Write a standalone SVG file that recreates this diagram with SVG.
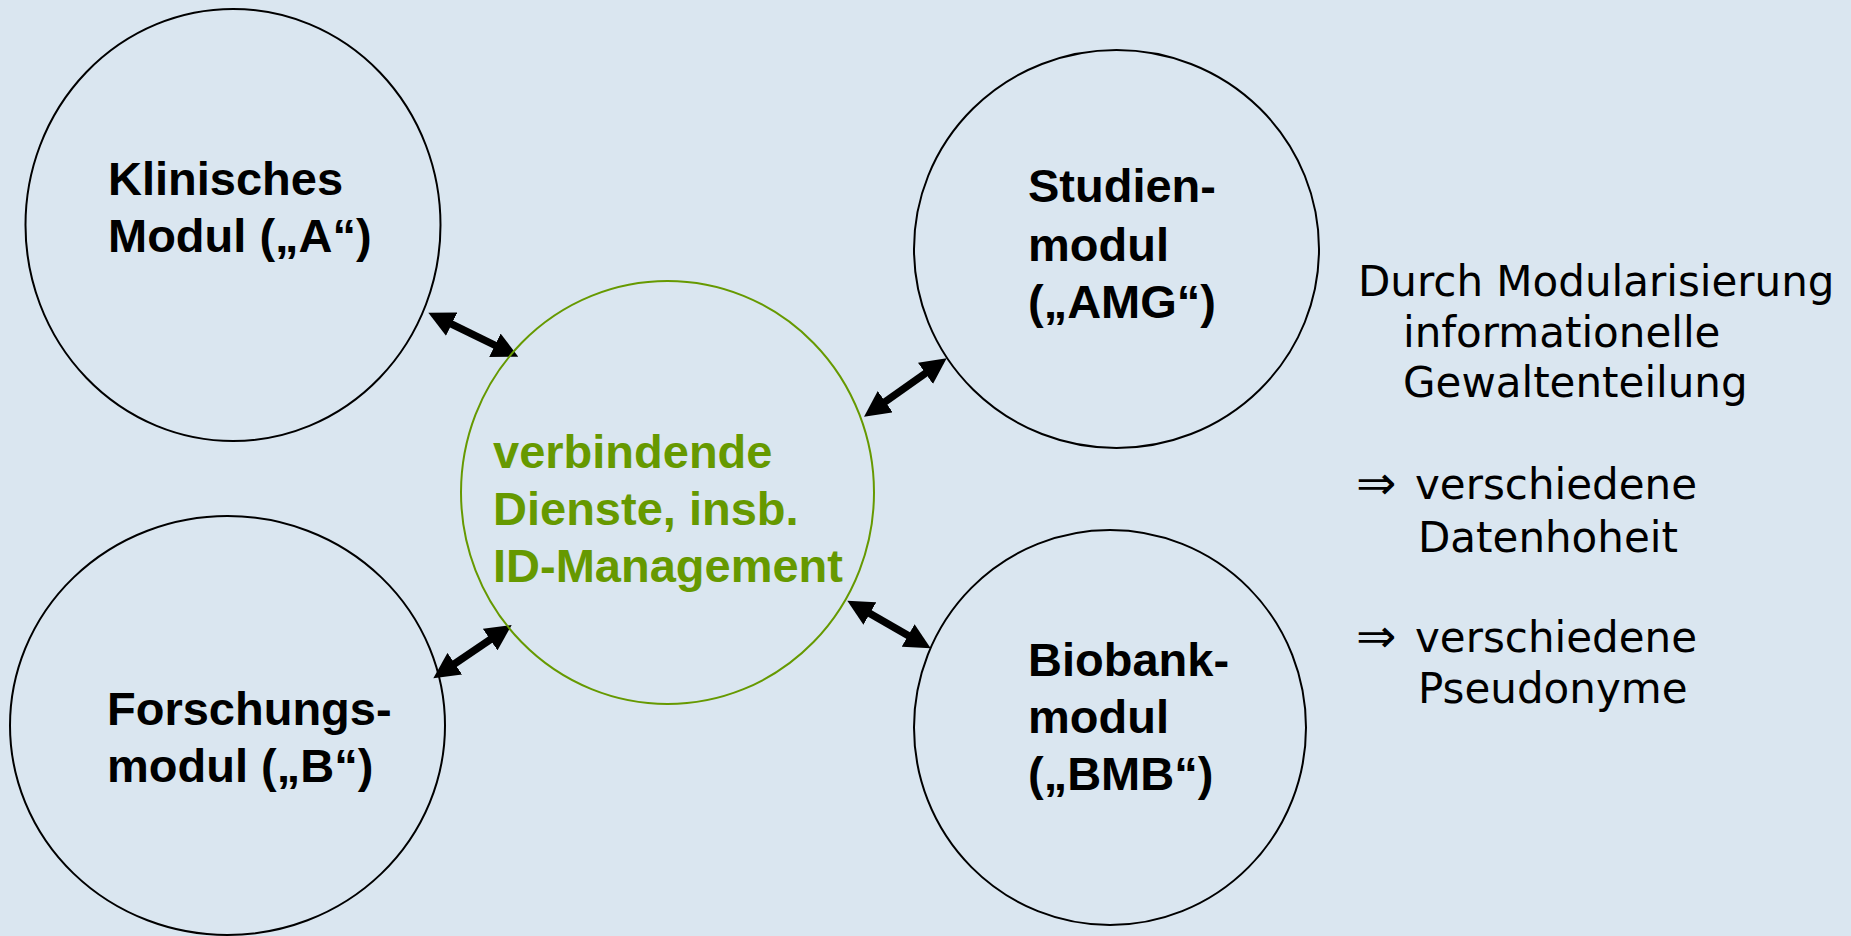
<svg xmlns="http://www.w3.org/2000/svg" width="1851" height="936" viewBox="0 0 1851 936">
<style>
.mod{fill:none;stroke:#000;stroke-width:2}
.core{fill:none;stroke:#669900;stroke-width:2}
.lbl{font-family:"Liberation Sans",Arial,sans-serif;font-weight:bold;font-size:47px;fill:#000}
.glbl{font-family:"Liberation Sans",Arial,sans-serif;font-weight:bold;font-size:47px;fill:#669900}
.side{font-family:"DejaVu Sans",Verdana,sans-serif;font-size:42px;fill:#000}
.conn{stroke:#000;stroke-width:7.5;fill:none;marker-start:url(#ah);marker-end:url(#ah)}
</style>
<defs>
<marker id="ah" viewBox="0 0 26 26" refX="4" refY="13" markerWidth="26" markerHeight="26" markerUnits="userSpaceOnUse" orient="auto-start-reverse">
<path d="M0,0 L26,13 L0,26 z" fill="#000"/>
</marker>
</defs>
<rect width="1851" height="936" fill="#dae6f0"/>
<g id="connectors">
<line class="conn" x1="448.1" y1="322.4" x2="498.5" y2="347.0"/>
<line class="conn" x1="882.0" y1="404.0" x2="928.7" y2="371.0"/>
<line class="conn" x1="866.4" y1="611.6" x2="911.6" y2="637.4"/>
<line class="conn" x1="493.5" y1="637.4" x2="451.5" y2="665.9"/>
</g>
<g id="modul-a">
<ellipse class="mod" cx="233" cy="225" rx="207.5" ry="216"/>
<text class="lbl" x="108" y="195">Klinisches</text>
<text class="lbl" x="108" y="252">Modul („A“)</text>
</g>
<g id="modul-b">
<ellipse class="mod" cx="227.5" cy="725.5" rx="217.5" ry="209.5"/>
<text class="lbl" x="107" y="725">Forschungs-</text>
<text class="lbl" x="107" y="782">modul („B“)</text>
</g>
<g id="modul-amg">
<ellipse class="mod" cx="1116.5" cy="249" rx="202.5" ry="199"/>
<text class="lbl" x="1028" y="202">Studien-</text>
<text class="lbl" x="1028" y="261">modul</text>
<text class="lbl" x="1028" y="318">(„AMG“)</text>
</g>
<g id="modul-bmb">
<ellipse class="mod" cx="1110" cy="727.5" rx="196" ry="197.5"/>
<text class="lbl" x="1028" y="676">Biobank-</text>
<text class="lbl" x="1028" y="733">modul</text>
<text class="lbl" x="1028" y="790">(„BMB“)</text>
</g>
<g id="core">
<ellipse class="core" cx="667.5" cy="492.5" rx="206.5" ry="211.5"/>
<text class="glbl" x="493" y="468">verbindende</text>
<text class="glbl" x="493" y="525">Dienste, insb.</text>
<text class="glbl" x="493" y="582">ID-Management</text>
</g>
<g id="notes">
<text class="side" x="1358" y="296">Durch Modularisierung</text>
<text class="side" x="1403" y="347">informationelle</text>
<text class="side" x="1403" y="397">Gewaltenteilung</text>
<text class="side" transform="translate(1356,499) scale(1.15,1.1)">⇒</text>
<text class="side" x="1415" y="499">verschiedene</text>
<text class="side" x="1418" y="552">Datenhoheit</text>
<text class="side" transform="translate(1356,652) scale(1.15,1.1)">⇒</text>
<text class="side" x="1415" y="652">verschiedene</text>
<text class="side" x="1418" y="703">Pseudonyme</text>
</g>
</svg>
